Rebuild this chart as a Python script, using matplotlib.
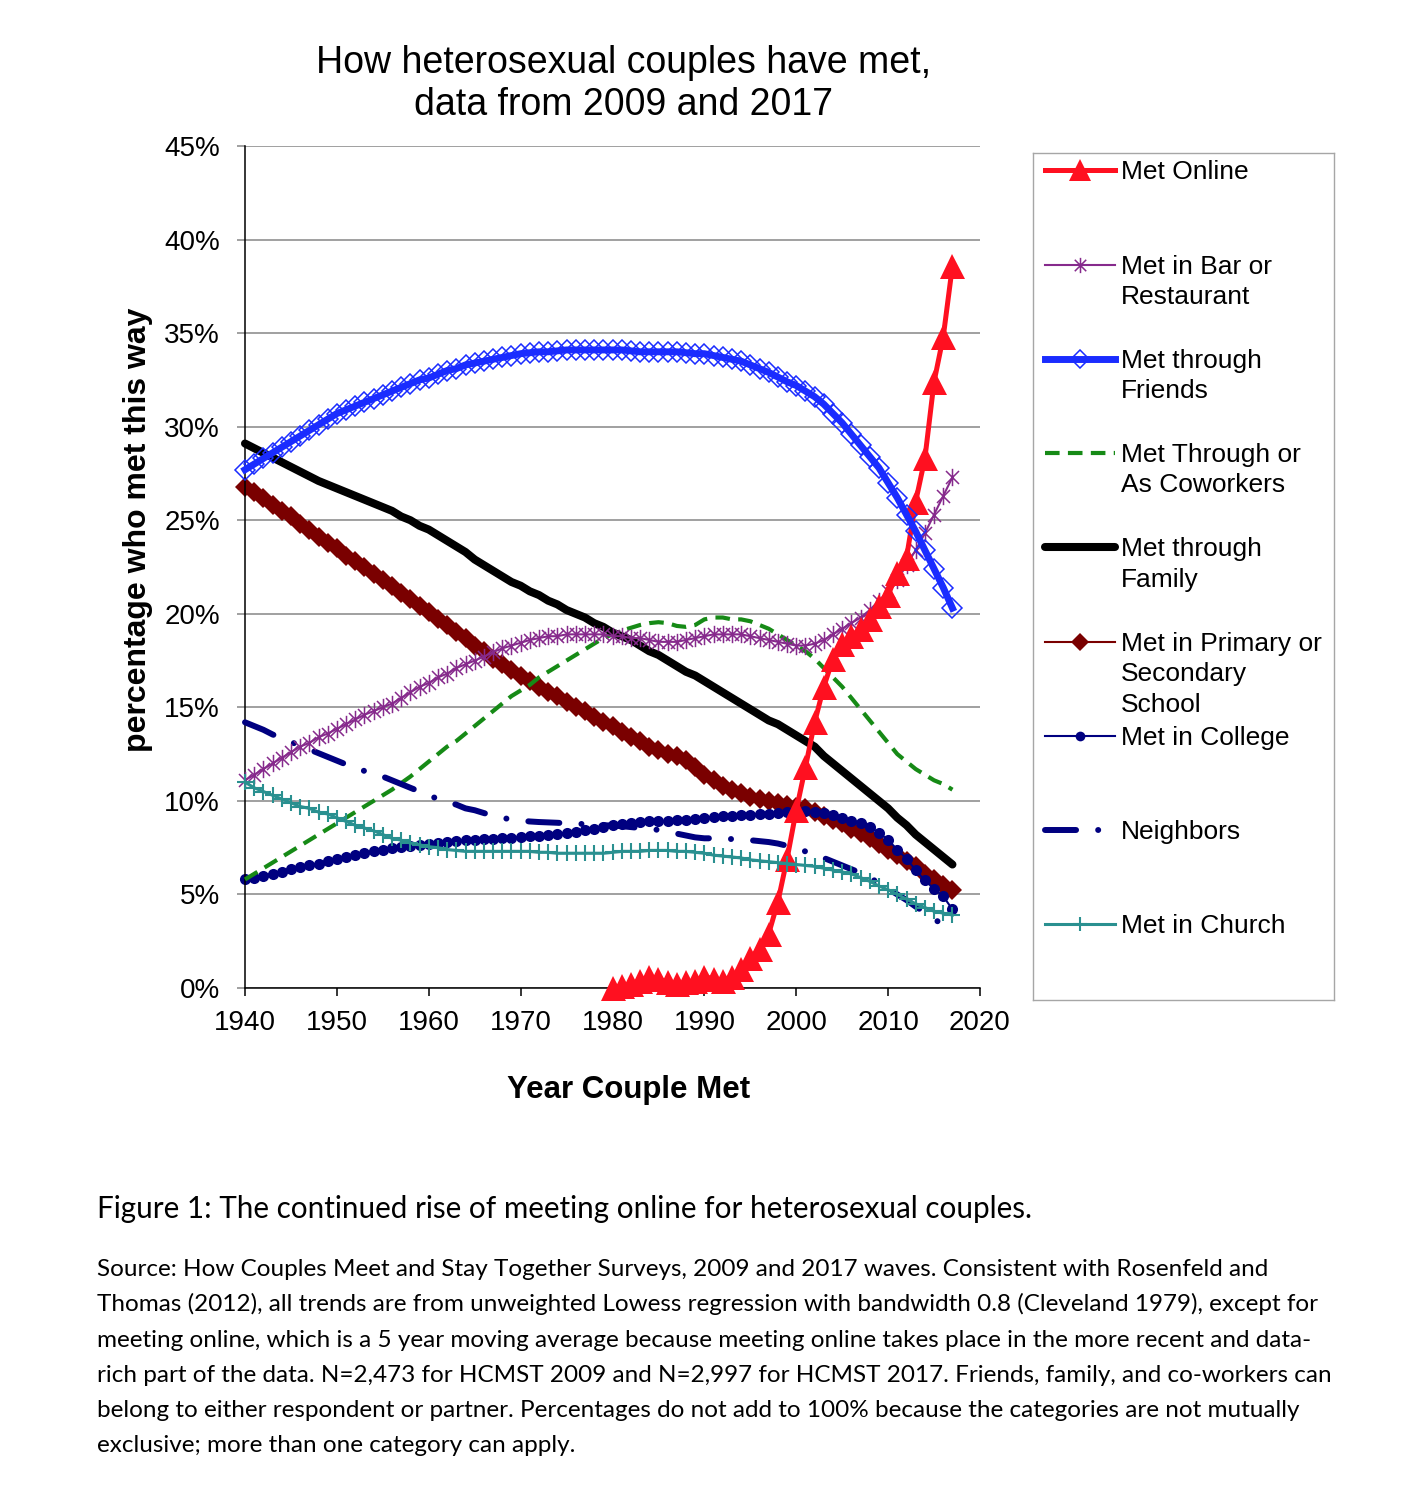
import numpy as np
import matplotlib
matplotlib.use('Agg')
import matplotlib.pyplot as plt
from matplotlib.path import Path
from matplotlib.ticker import FuncFormatter, MultipleLocator

# year axis
years = list(range(1940, 2018))
online_years = list(range(1980, 2018))

# percent who met each way, one value per year
met_online = [0.0, 0.1, 0.2, 0.4, 0.6, 0.5, 0.3, 0.2, 0.3, 0.4,
              0.6, 0.5, 0.4, 0.6, 1.0, 1.6, 2.1, 2.9, 4.6, 6.9,
              9.5, 11.8, 14.2, 16.1, 17.6, 18.4, 18.8, 19.2, 19.7, 20.4,
              21.0, 22.2, 23.0, 26.0, 28.3, 32.4, 34.8, 38.6]

bar_restaurant = [11.1, 11.4, 11.7, 12.0, 12.3, 12.6, 12.9, 13.1, 13.4, 13.6,
                  13.85, 14.1, 14.35, 14.6, 14.8, 15.0, 15.2, 15.5, 15.8, 16.1,
                  16.3, 16.6, 16.8, 17.1, 17.3, 17.5, 17.7, 17.95, 18.15, 18.3,
                  18.45, 18.6, 18.7, 18.8, 18.8, 18.9, 18.9, 18.9, 18.9, 18.9,
                  18.8, 18.8, 18.7, 18.7, 18.6, 18.5, 18.5, 18.5, 18.6, 18.7,
                  18.8, 18.9, 18.9, 18.9, 18.9, 18.8, 18.7, 18.6, 18.5, 18.4,
                  18.3, 18.3, 18.4, 18.6, 18.9, 19.2, 19.5, 19.8, 20.2, 20.7,
                  21.2, 21.8, 22.6, 23.4, 24.3, 25.3, 26.3, 27.3]

friends = [27.7, 28.0, 28.3, 28.6, 28.9, 29.2, 29.5, 29.8, 30.1, 30.4,
           30.7, 30.9, 31.1, 31.3, 31.5, 31.7, 31.9, 32.1, 32.3, 32.5,
           32.6, 32.8, 33.0, 33.1, 33.3, 33.4, 33.5, 33.6, 33.7, 33.8,
           33.9, 33.95, 34.0, 34.0, 34.05, 34.1, 34.1, 34.1, 34.1, 34.1,
           34.1, 34.1, 34.05, 34.0, 34.0, 34.0, 34.0, 34.0, 33.95, 33.9,
           33.9, 33.8, 33.7, 33.6, 33.5, 33.3, 33.1, 32.9, 32.65, 32.4,
           32.2, 31.9, 31.6, 31.2, 30.7, 30.2, 29.6, 29.0, 28.4, 27.8,
           27.0, 26.2, 25.3, 24.4, 23.4, 22.4, 21.4, 20.3]

coworkers = [5.8, 6.1, 6.4, 6.7, 7.0, 7.3, 7.6, 7.9, 8.2, 8.5,
             8.8, 9.1, 9.4, 9.7, 10.0, 10.3, 10.6, 10.95, 11.3, 11.7,
             12.1, 12.5, 12.9, 13.2, 13.6, 14.0, 14.4, 14.8, 15.2, 15.6,
             15.9, 16.2, 16.6, 16.9, 17.2, 17.5, 17.8, 18.1, 18.4, 18.7,
             18.9, 19.1, 19.25, 19.4, 19.5, 19.55, 19.5, 19.35, 19.3, 19.4,
             19.7, 19.8, 19.8, 19.7, 19.7, 19.6, 19.4, 19.2, 18.9, 18.6,
             18.3, 18.0, 17.6, 17.1, 16.6, 16.1, 15.5, 14.9, 14.3, 13.7,
             13.1, 12.5, 12.1, 11.7, 11.4, 11.1, 10.9, 10.6]

family = [29.1, 28.85, 28.6, 28.35, 28.1, 27.85, 27.6, 27.35, 27.1, 26.9,
          26.7, 26.5, 26.3, 26.1, 25.9, 25.7, 25.5, 25.2, 25.0, 24.7,
          24.5, 24.2, 23.9, 23.6, 23.3, 22.9, 22.6, 22.3, 22.0, 21.7,
          21.5, 21.2, 21.0, 20.7, 20.5, 20.2, 20.0, 19.8, 19.5, 19.3,
          19.0, 18.8, 18.6, 18.3, 18.0, 17.8, 17.5, 17.2, 16.9, 16.7,
          16.4, 16.1, 15.8, 15.5, 15.2, 14.9, 14.6, 14.3, 14.1, 13.8,
          13.5, 13.2, 12.9, 12.4, 12.0, 11.6, 11.2, 10.8, 10.4, 10.0,
          9.6, 9.1, 8.7, 8.2, 7.8, 7.4, 7.0, 6.6]

school = [26.8, 26.5, 26.2, 25.8, 25.5, 25.2, 24.8, 24.5, 24.1, 23.8,
          23.5, 23.1, 22.8, 22.5, 22.1, 21.8, 21.5, 21.1, 20.8, 20.4,
          20.1, 19.7, 19.4, 19.0, 18.7, 18.3, 18.0, 17.6, 17.3, 17.0,
          16.7, 16.4, 16.1, 15.8, 15.6, 15.3, 15.0, 14.8, 14.5, 14.2,
          14.0, 13.7, 13.4, 13.2, 12.9, 12.7, 12.5, 12.4, 12.2, 11.8,
          11.4, 11.1, 10.8, 10.6, 10.4, 10.2, 10.1, 10.0, 9.9, 9.8,
          9.7, 9.6, 9.4, 9.2, 9.0, 8.8, 8.5, 8.3, 8.0, 7.7,
          7.4, 7.1, 6.8, 6.5, 6.1, 5.8, 5.5, 5.25]

college = [5.8, 5.9, 6.0, 6.1, 6.2, 6.35, 6.45, 6.55, 6.65, 6.8,
           6.9, 7.0, 7.1, 7.2, 7.3, 7.4, 7.5, 7.55, 7.6, 7.65,
           7.7, 7.75, 7.8, 7.85, 7.9, 7.9, 7.95, 7.95, 8.0, 8.0,
           8.05, 8.1, 8.15, 8.2, 8.25, 8.3, 8.35, 8.45, 8.5, 8.6,
           8.7, 8.75, 8.8, 8.85, 8.9, 8.9, 8.95, 9.0, 9.0, 9.05,
           9.1, 9.15, 9.2, 9.2, 9.25, 9.25, 9.3, 9.3, 9.35, 9.4,
           9.4, 9.45, 9.4, 9.35, 9.25, 9.1, 8.95, 8.8, 8.6, 8.3,
           7.9, 7.4, 6.9, 6.3, 5.75, 5.3, 4.9, 4.2]

neighbors = [14.2, 14.0, 13.8, 13.55, 13.35, 13.15, 12.95, 12.75, 12.55, 12.35,
             12.15, 11.95, 11.75, 11.6, 11.45, 11.3, 11.1, 10.9, 10.7, 10.5,
             10.3, 10.1, 9.95, 9.8, 9.6, 9.5, 9.35, 9.2, 9.1, 9.0,
             8.95, 8.9, 8.87, 8.85, 8.83, 8.8, 8.78, 8.76, 8.74, 8.7,
             8.68, 8.65, 8.6, 8.55, 8.5, 8.45, 8.35, 8.25, 8.15, 8.05,
             8.0, 8.0, 7.98, 7.96, 7.95, 7.9, 7.85, 7.8, 7.72, 7.6,
             7.45, 7.3, 7.15, 6.95, 6.75, 6.55, 6.35, 6.15, 5.9, 5.6,
             5.3, 5.0, 4.7, 4.35, 4.05, 3.7, 3.35, 3.05]

church = [11.0, 10.7, 10.5, 10.3, 10.1, 9.9, 9.7, 9.6, 9.4, 9.3,
          9.1, 8.9, 8.7, 8.55, 8.4, 8.2, 8.0, 7.9, 7.75, 7.65,
          7.55, 7.5, 7.4, 7.35, 7.3, 7.3, 7.3, 7.3, 7.3, 7.3,
          7.3, 7.3, 7.25, 7.25, 7.2, 7.2, 7.2, 7.2, 7.2, 7.2,
          7.25, 7.3, 7.3, 7.3, 7.35, 7.35, 7.35, 7.3, 7.3, 7.25,
          7.2, 7.1, 7.05, 7.0, 6.95, 6.85, 6.8, 6.75, 6.7, 6.65,
          6.6, 6.55, 6.5, 6.4, 6.3, 6.2, 6.1, 5.9, 5.7, 5.45,
          5.25, 5.0, 4.75, 4.5, 4.3, 4.1, 4.0, 3.9]

labels = ['Met Online', 'Met in Bar or\nRestaurant', 'Met through\nFriends',
          'Met Through or\nAs Coworkers', 'Met through\nFamily',
          'Met in Primary or\nSecondary\nSchool', 'Met in College',
          'Neighbors', 'Met in Church']

title = 'How heterosexual couples have met,\ndata from 2009 and 2017'
caption = 'Figure 1: The continued rise of meeting online for heterosexual couples.'
source_lines = [
    'Source: How Couples Meet and Stay Together Surveys, 2009 and 2017 waves. Consistent with Rosenfeld and',
    'Thomas (2012), all trends are from unweighted Lowess regression with bandwidth 0.8 (Cleveland 1979), except for',
    'meeting online, which is a 5 year moving average because meeting online takes place in the more recent and data-',
    'rich part of the data. N=2,473 for HCMST 2009 and N=2,997 for HCMST 2017. Friends, family, and co-workers can',
    'belong to either respondent or partner. Percentages do not add to 100% because the categories are not mutually',
    'exclusive; more than one category can apply.',
]

# asterisk marker like the spreadsheet one: x plus a vertical bar
asterisk = Path([(0, -1), (0, 1), (-0.75, -0.75), (0.75, 0.75), (-0.75, 0.75), (0.75, -0.75)],
                [Path.MOVETO, Path.LINETO, Path.MOVETO, Path.LINETO, Path.MOVETO, Path.LINETO])

neigh_dash = (0, (5.2, 3.7, 0.01, 3.7))

# style for every series, same order as the legend
styles = [
    dict(color='#ff1020', lw=3.6, marker='^', ms=18, mec='#ff1020', mew=0),
    dict(color='#862a8c', lw=1.5, marker=asterisk, ms=12.5, mfc='none', mec='#862a8c', mew=1.1),
    dict(color='#1a2cff', lw=5.0, marker='D', ms=10, mfc='none', mec='#1a2cff', mew=1.1),
    dict(color='#168a16', lw=3.0, ls=(0, (3.5, 2.0))),
    dict(color='black', lw=5.8, solid_capstyle='round'),
    dict(color='#7a0000', lw=1.5, marker='D', ms=10, mec='#7a0000', mew=0),
    dict(color='#000080', lw=1.5, marker='o', ms=8, mec='#000080', mew=0),
    dict(color='#000080', lw=4.3, ls=neigh_dash, dash_capstyle='round'),
    dict(color='#2a9090', lw=2.2, marker='+', ms=11, mec='#2a9090', mew=1.5),
]
legend_ms = [16, 11, 9, 0, 0, 9, 7, 0, 10]

W, H = 1406, 1508
fig = plt.figure(figsize=(W / 100, H / 100), dpi=100)
plt.rcParams['font.family'] = ['Liberation Sans', 'DejaVu Sans']

def fx(px):
    return px / W

def fy(py):
    return 1 - py / H

ax = fig.add_axes([fx(245), fy(988), fx(980) - fx(245), fy(146) - fy(988)])

series = [(online_years, met_online), (years, bar_restaurant), (years, friends),
          (years, coworkers), (years, family), (years, school), (years, college),
          (years, neighbors), (years, church)]
zorders = [5, 4, 6, 3, 3, 2, 2, 3, 7]
for (xs, ys), st, z in zip(series, styles, zorders):
    ax.plot(xs, ys, zorder=z, clip_on=False, **st)

ax.set_xlim(1940, 2020)
ax.set_ylim(0, 45)
ax.xaxis.set_major_locator(MultipleLocator(10))
ax.yaxis.set_major_locator(MultipleLocator(5))
ax.yaxis.set_major_formatter(FuncFormatter(lambda v, p: '%d%%' % round(v)))
ax.grid(axis='y', color='#868686', lw=1.1, zorder=0)
ax.set_axisbelow(True)
for s in ['top', 'right']:
    ax.spines[s].set_visible(False)
ax.spines['left'].set_linewidth(1.1)
ax.spines['bottom'].set_linewidth(1.1)
ax.tick_params(axis='x', direction='out', length=6, width=1.1, pad=10, labelsize=20)
ax.tick_params(axis='y', direction='out', length=6, width=1.1, color='#868686', pad=12, labelsize=20)

fig.text(fx(624), fy(84), title, ha='center', va='center', fontsize=27, linespacing=1.18)
fig.text(fx(138), fy(530), 'percentage who met this way', rotation=90, ha='center', va='center',
         fontsize=23, fontweight='bold')
fig.text(fx(629), fy(1090), 'Year Couple Met', ha='center', va='center', fontsize=22.5, fontweight='bold')

# legend box drawn by hand so the handles sit on the first text line
lx0, ly0, lx1, ly1 = 1033, 153, 1334, 1000
lax = fig.add_axes([fx(lx0), fy(ly1), fx(lx1) - fx(lx0), fy(ly0) - fy(ly1)])
lax.set_xlim(lx0, lx1)
lax.set_ylim(ly1, ly0)
lax.set_xticks([])
lax.set_yticks([])
for s in lax.spines.values():
    s.set_color('#a6a6a6')
    s.set_linewidth(1.0)
entry_y = [170, 265, 359, 453, 547, 642, 736, 830, 924]
for lab, st, lms, yy in zip(labels, styles, legend_ms, entry_y):
    line_st = {k: v for k, v in st.items() if k not in ('marker', 'ms', 'mfc', 'mec', 'mew')}
    lax.plot([1045, 1115], [yy, yy], **line_st)
    if 'marker' in st:
        lax.plot([1080], [yy], ls='none', marker=st['marker'], ms=lms,
                 mfc=st.get('mfc', st['color']), mec=st['mec'], mew=st['mew'])
    for i, part in enumerate(lab.split('\n')):
        lax.text(1121, yy + 9 + i * 30.5, part, fontsize=19, va='baseline', ha='left')

fig.text(fx(97), fy(1218), caption, fontsize=21.3, family=['Lato', 'DejaVu Sans'], va='baseline')
for i, line in enumerate(source_lines):
    fig.text(fx(97), fy(1276 + i * 35.3), line, fontsize=17.5, family=['Lato', 'DejaVu Sans'], va='baseline')

fig.savefig('out.png', dpi=100)
